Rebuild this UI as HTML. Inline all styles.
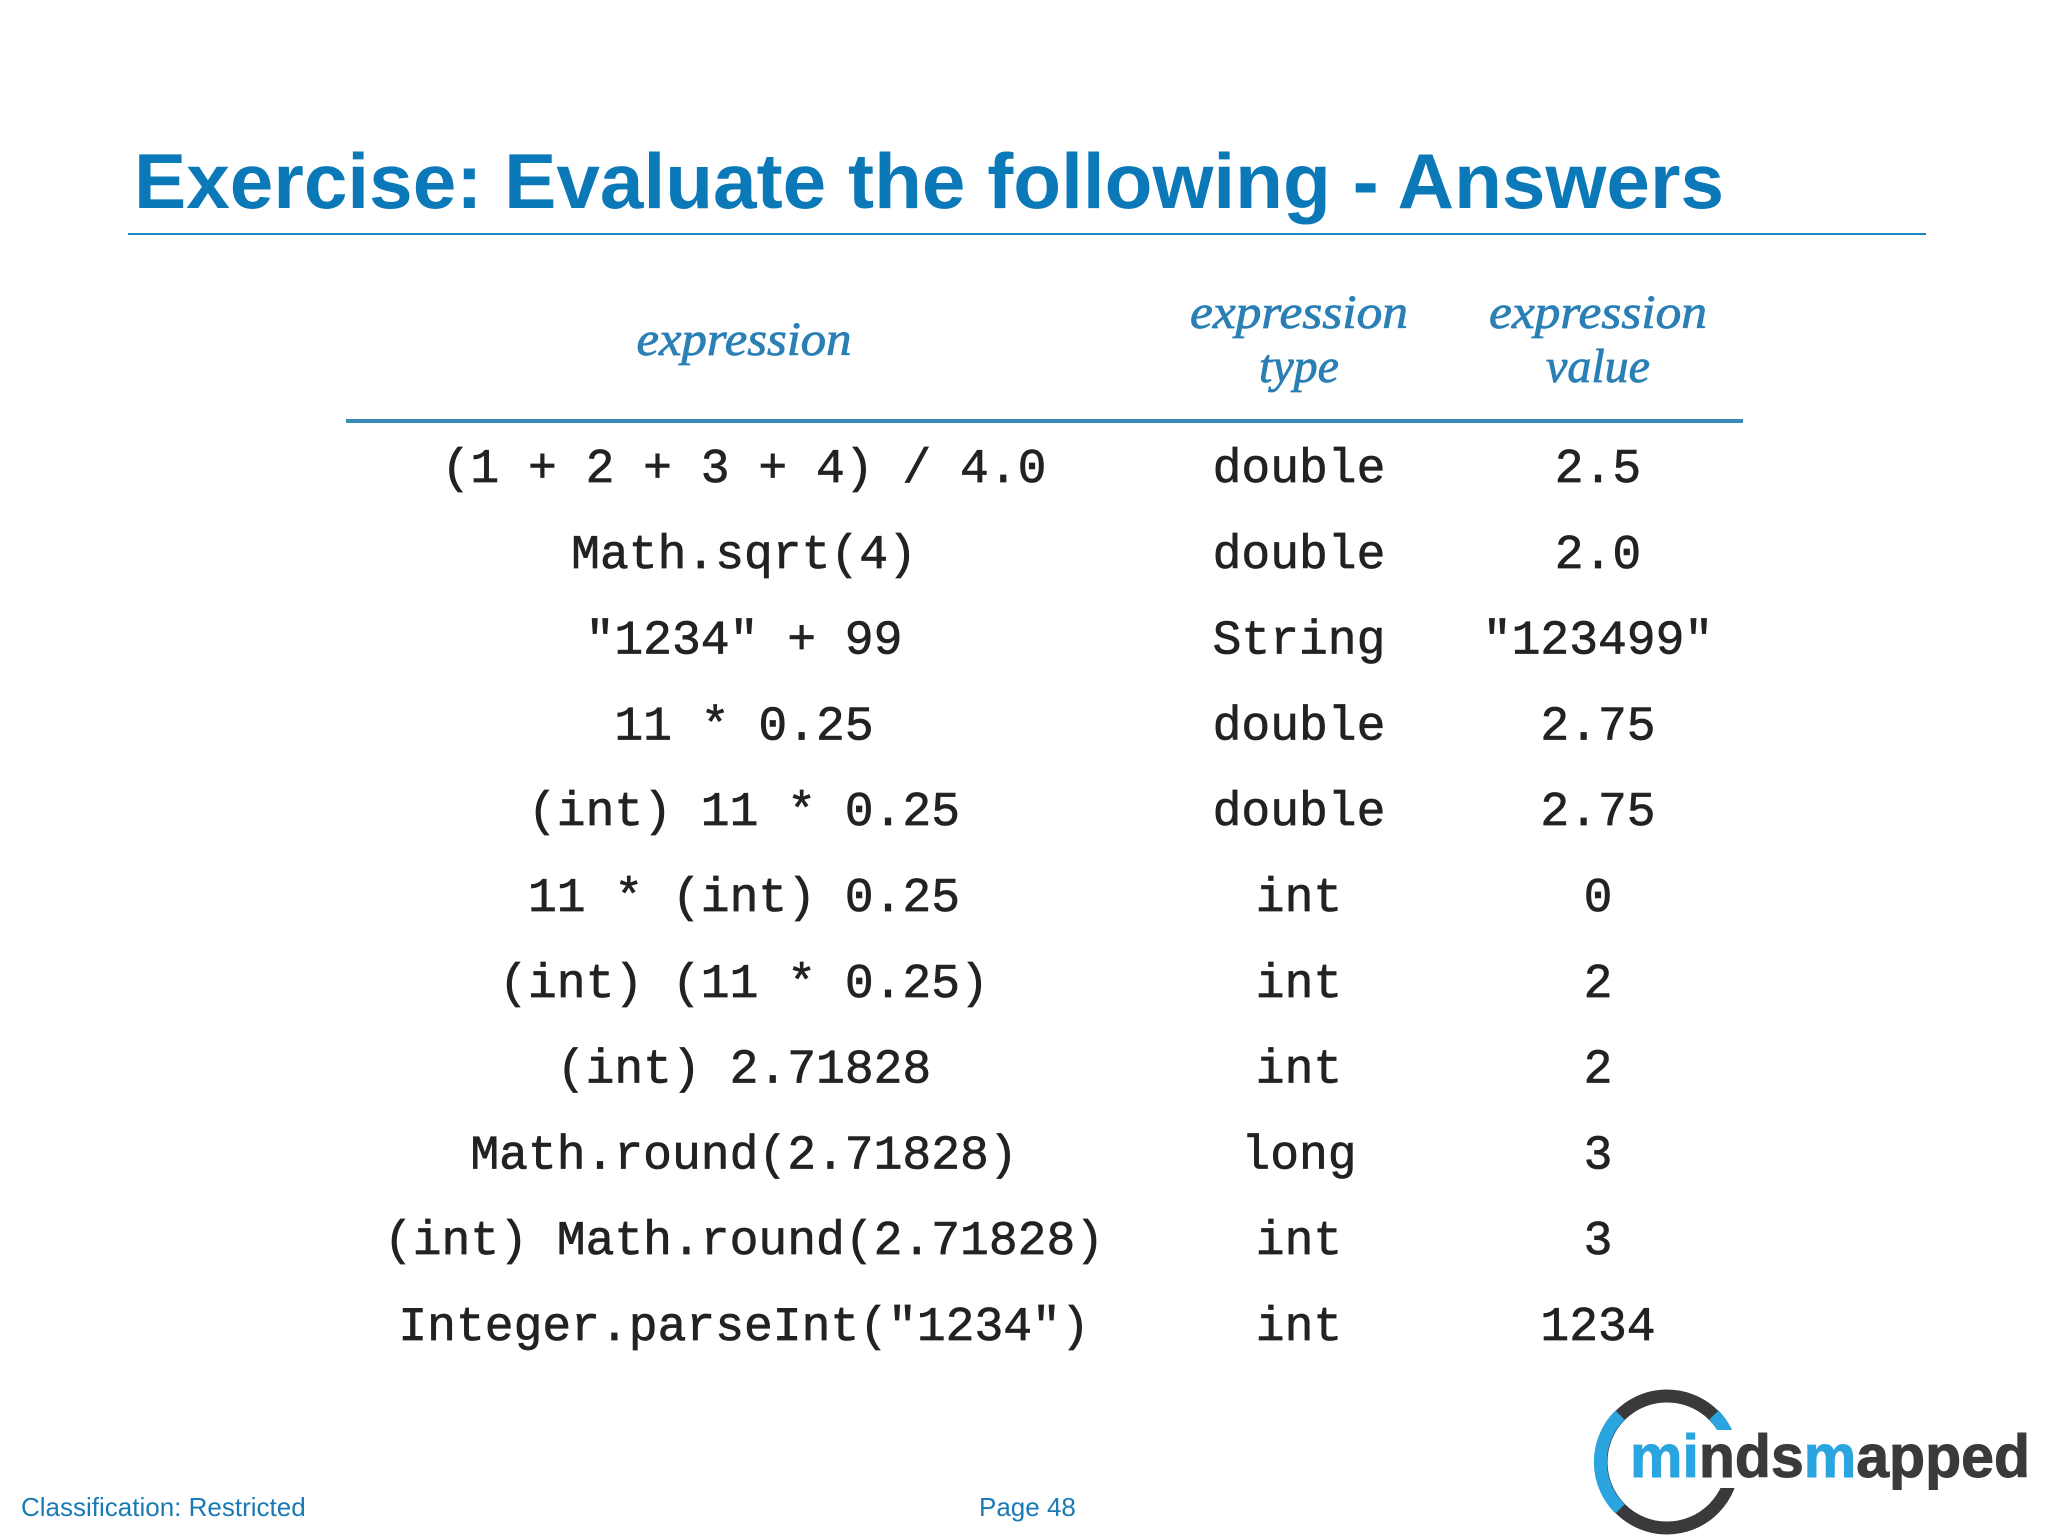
<!DOCTYPE html>
<html><head><meta charset="utf-8"><style>
html,body{margin:0;padding:0;background:#fff;}
svg{display:block;}
</style></head><body>
<svg width="2048" height="1536" viewBox="0 0 2048 1536" xmlns="http://www.w3.org/2000/svg">
<text x="134" y="208" font-family="Liberation Sans, sans-serif" font-weight="bold" font-size="78" fill="#0b78b8" textLength="1590" lengthAdjust="spacingAndGlyphs">Exercise: Evaluate the following - Answers</text>
<line x1="128" y1="234" x2="1926" y2="234" stroke="#1a86c4" stroke-width="2"/>
<g font-family="Liberation Serif, serif" font-style="italic" font-size="48" fill="#2a7fb5" text-anchor="middle" stroke="#2a7fb5" stroke-width="0.8">
<text x="744" y="355" textLength="215" lengthAdjust="spacingAndGlyphs">expression</text>
<text x="1299" y="328" textLength="218" lengthAdjust="spacingAndGlyphs">expression</text>
<text x="1299" y="382">type</text>
<text x="1598" y="328" textLength="218" lengthAdjust="spacingAndGlyphs">expression</text>
<text x="1598" y="382">value</text>
</g>
<line x1="346" y1="421" x2="1743" y2="421" stroke="#3a8ab8" stroke-width="4"/>
<g id="rows" font-family="Liberation Mono, monospace" font-size="48" fill="#222" stroke="#222" stroke-width="0.7" text-anchor="middle"></g>
<g font-family="Liberation Sans, sans-serif" font-size="26" fill="#1a7ab5">
<text x="21" y="1516">Classification: Restricted</text>
<text x="979" y="1516">Page 48</text>
</g>
<g>
<circle cx="1667" cy="1462" r="66" fill="none" stroke="#3a3a3c" stroke-width="13"/>
<path d="M1620 1415 A66 66 0 0 0 1620 1509" fill="none" stroke="#2aa5e0" stroke-width="13"/>
<path d="M1714 1415 A66 66 0 0 1 1729 1440" fill="none" stroke="#2aa5e0" stroke-width="13"/>
<rect x="1640" y="1430" width="110" height="58" fill="#fff"/>
<text x="1630" y="1477" font-family="Liberation Sans, sans-serif" font-weight="bold" font-size="60" fill="#3a3a3c" stroke="#3a3a3c" stroke-width="1" textLength="400" lengthAdjust="spacingAndGlyphs"><tspan fill="#2aa5e0" stroke="#2aa5e0">mi</tspan>nds<tspan fill="#2aa5e0" stroke="#2aa5e0">m</tspan>apped</text>
</g>
</svg>
<script>
const expressions=['(1 + 2 + 3 + 4) / 4.0','Math.sqrt(4)','"1234" + 99','11 * 0.25','(int) 11 * 0.25','11 * (int) 0.25','(int) (11 * 0.25)','(int) 2.71828','Math.round(2.71828)','(int) Math.round(2.71828)','Integer.parseInt("1234")'];
const types=['double','double','String','double','double','int','int','int','long','int','int'];
const values=['2.5','2.0','"123499"','2.75','2.75','0','2','2','3','3','1234'];
const g=document.getElementById('rows');
const ns='http://www.w3.org/2000/svg';
const y0=482, dy=85.8;
const cols=[[744,expressions,'expression-cell'],[1299,types,'type-cell'],[1598,values,'value-cell']];
expressions.forEach((e,i)=>{
  cols.forEach(c=>{
    const t=document.createElementNS(ns,'text');
    t.setAttribute('x',c[0]);
    t.setAttribute('y',y0+i*dy);
    t.textContent=c[1][i];
    
    
    g.appendChild(t);
  });
});
</script>
</body></html>
